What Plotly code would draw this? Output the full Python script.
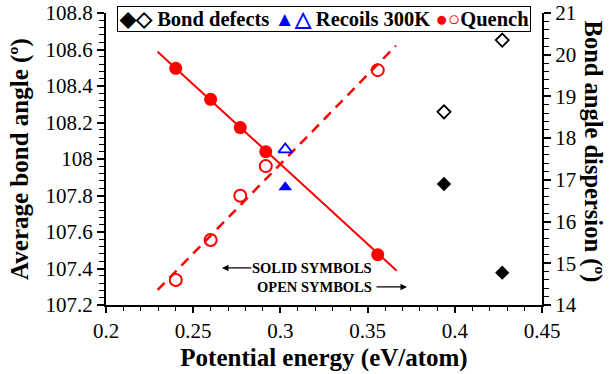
import plotly.graph_objects as go

# Data
quench_x = [0.240, 0.260, 0.277, 0.2916, 0.3558]
quench_avg = [108.497, 108.327, 108.172, 108.040, 107.476]
quench_disp = [14.60, 15.56, 16.62, 17.33, 19.63]
quench_fit_x = [0.2296, 0.3667]
quench_fit_avg = [108.588, 107.388]
quench_fit_disp_x = [0.2296, 0.3663]
quench_fit_disp = [14.36, 20.22]

recoil_x = [0.3028]
recoil_avg = [107.845]
recoil_disp = [17.73]

defect_x = [0.3938, 0.4272]
defect_avg = [107.863, 107.377]
defect_disp = [18.63, 20.35]

FONT = "Liberation Serif"
RED = "#ff0000"
BLUE = "#0000ff"

fig = go.Figure()

# fit lines
fig.add_trace(go.Scatter(x=quench_fit_x, y=quench_fit_avg, mode="lines",
                         line=dict(color=RED, width=2), yaxis="y", showlegend=False))
fig.add_trace(go.Scatter(x=quench_fit_disp_x, y=quench_fit_disp, mode="lines",
                         line=dict(color=RED, width=2.5, dash="10px,7px"), yaxis="y2", showlegend=False))

# solid symbols (left axis)
fig.add_trace(go.Scatter(x=quench_x, y=quench_avg, mode="markers",
                         marker=dict(symbol="circle", size=13, color=RED), yaxis="y", showlegend=False))
fig.add_trace(go.Scatter(x=recoil_x, y=recoil_avg, mode="markers",
                         marker=dict(symbol="triangle-up", size=12, color=BLUE), yaxis="y", showlegend=False))
fig.add_trace(go.Scatter(x=defect_x, y=defect_avg, mode="markers",
                         marker=dict(symbol="diamond", size=11, color="black"), yaxis="y", showlegend=False))

# open symbols (right axis)
fig.add_trace(go.Scatter(x=quench_x, y=quench_disp, mode="markers",
                         marker=dict(symbol="circle-open", size=12, color=RED, line=dict(width=2)),
                         yaxis="y2", showlegend=False))
fig.add_trace(go.Scatter(x=recoil_x, y=recoil_disp, mode="markers",
                         marker=dict(symbol="triangle-up-open", size=12, color=BLUE, line=dict(width=1.8)),
                         yaxis="y2", showlegend=False))
fig.add_trace(go.Scatter(x=defect_x, y=defect_disp, mode="markers",
                         marker=dict(symbol="diamond-open", size=10, color="black", line=dict(width=1.8)),
                         yaxis="y2", showlegend=False))

tickfont = dict(family=FONT, size=21, color="black")
titlefont = dict(family=FONT, size=25, color="black")

fig.update_layout(
    width=613, height=374,
    margin=dict(l=106, r=71, t=13, b=69, autoexpand=False),
    paper_bgcolor="white", plot_bgcolor="white",
    font=dict(family=FONT, color="black"),
    xaxis=dict(range=[0.2, 0.45], dtick=0.05, tick0=0.2, showgrid=False, zeroline=False,
               showline=True, linecolor="black", linewidth=2, automargin=False,
               ticks="outside", ticklen=6, tickwidth=1.5, tickcolor="black",
               minor=dict(ticks="outside", ticklen=4, dtick=0.01, tickcolor="black", tickwidth=1.2),
               tickfont=tickfont,
               title=dict(text="<b>Potential energy (eV/atom)</b>", font=titlefont, standoff=6)),
    yaxis=dict(range=[107.2, 108.8], dtick=0.2, tick0=107.2, showgrid=False, zeroline=False,
               showline=True, linecolor="black", linewidth=2, automargin=False,
               ticks="outside", ticklen=7, tickwidth=1.5, tickcolor="black",
               minor=dict(ticks="outside", ticklen=5, dtick=0.04, tickcolor="black", tickwidth=1.2),
               tickfont=tickfont,
               title=dict(text="<b>Average bond angle (º)</b>", font=titlefont, standoff=10)),
    yaxis2=dict(range=[14, 21], dtick=1, tick0=14, overlaying="y", side="right",
                showgrid=False, zeroline=False, automargin=False,
                showline=True, linecolor="black", linewidth=2,
                ticks="outside", ticklen=7, tickwidth=1.5, tickcolor="black",
                minor=dict(ticks="outside", ticklen=5, dtick=0.2, tickcolor="black", tickwidth=1.2),
                tickfont=tickfont),
)

# Right axis title, reading top to bottom
fig.add_annotation(xref="paper", yref="paper", x=1.118, y=0.524, xanchor="center", yanchor="middle",
                   text="<b>Bond angle dispersion (º)</b>", textangle=90, showarrow=False,
                   font=dict(family=FONT, size=24.5, color="black"))

# Legend box (as annotation)
legend_text = ("<b>◆◇ Bond defects "
               "<span style='color:#0000ff'>▲△</span> Recoils 300K "
               "<span style='color:#ff0000'>●○</span>Quench</b>")
fig.add_annotation(xref="paper", yref="paper", x=0.5, y=0.98, xanchor="center", yanchor="middle",
                   text=legend_text, showarrow=False,
                   font=dict(family=FONT, size=20.5, color="black"),
                   bordercolor="black", borderwidth=1, borderpad=1, bgcolor="white")

# Arrow annotations
fig.add_annotation(x=0.2665, y=107.403, xref="x", yref="y", ax=31, ay=0, text="",
                   showarrow=True, arrowhead=2, arrowsize=1, arrowwidth=1.3, arrowcolor="black")
fig.add_annotation(x=0.3181, y=107.403, xref="x", yref="y", text="<b>SOLID SYMBOLS</b>",
                   showarrow=False, font=dict(family=FONT, size=14.5, color="black"))
fig.add_annotation(x=0.3726, y=107.299, xref="x", yref="y", ax=-32, ay=0, text="",
                   showarrow=True, arrowhead=2, arrowsize=1, arrowwidth=1.3, arrowcolor="black")
fig.add_annotation(x=0.3193, y=107.299, xref="x", yref="y", text="<b>OPEN SYMBOLS</b>",
                   showarrow=False, font=dict(family=FONT, size=14.5, color="black"))

fig.write_html("out.html")
